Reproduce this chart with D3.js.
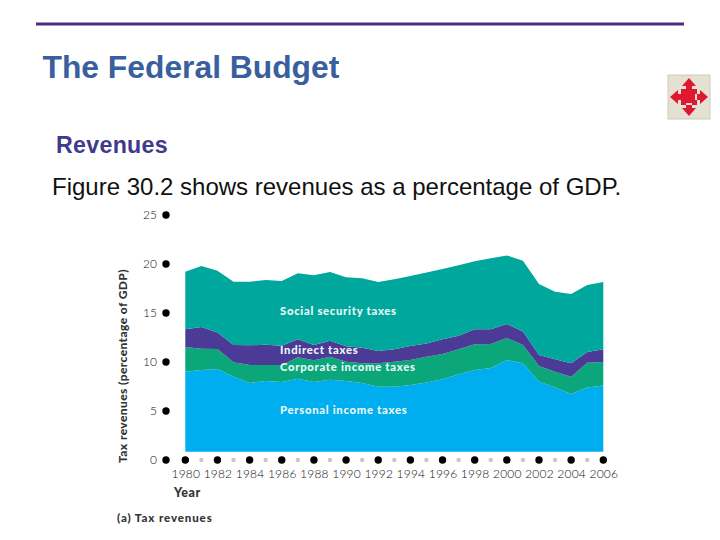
<!DOCTYPE html>
<html><head><meta charset="utf-8">
<script src="https://cdn.jsdelivr.net/npm/d3@7"></script>
<style>html,body{margin:0;background:#fff}svg{display:block}
.h{font-family:"Liberation Sans",Arial,sans-serif}
.c{font-family:Lato,"Open Sans",sans-serif}</style></head>
<body><svg id="c" width="720" height="540"></svg>
<script>
const years = d3.range(1980, 2007);
// Upper edge of each band as read against the left axis (percentage of GDP)
const personalTop = [9.01,9.18,9.29,8.5,7.86,8.06,7.96,8.3,7.96,8.2,8.06,7.85,7.48,7.48,7.65,7.9,8.23,8.74,9.18,9.39,10.2,9.86,8.0,7.4,6.73,7.4,7.6];
const corporateTop = [11.53,11.36,11.33,9.97,9.69,9.69,9.69,10.48,10.17,10.54,10.03,9.86,9.86,10.03,10.2,10.54,10.82,11.29,11.8,11.84,12.45,11.73,9.59,9.01,8.5,9.93,10.0];
const indirectTop = [13.33,13.57,13.0,11.73,11.7,11.77,11.67,12.31,11.73,12.18,11.6,11.45,11.12,11.29,11.63,11.9,12.31,12.69,13.33,13.33,13.88,13.1,10.71,10.27,9.86,11.02,11.29];
const socialTop = [19.22,19.8,19.3,18.2,18.2,18.37,18.27,19.05,18.84,19.18,18.64,18.54,18.16,18.44,18.78,19.12,19.49,19.86,20.27,20.58,20.88,20.34,17.96,17.18,16.94,17.86,18.16];
const areaFloor = 0.85;
const yTicks = [0,5,10,15,20,25];
const seriesNames = ["Personal income taxes","Corporate income taxes","Indirect taxes","Social security taxes"];
const seriesColors = ["#00ADEF","#0BA77B","#4B3A96","#00A79D"];

const svg = d3.select("#c");
const x = d3.scaleLinear().domain([1980,2006]).range([185.3,603.3]);
const y = d3.scaleLinear().domain([0,25]).range([460,215]);

function T(cls,px,py,s,fs,fw,fill){return svg.append("text").attr("class",cls).attr("x",px).attr("y",py).attr("font-size",fs).attr("font-weight",fw).attr("fill",fill).text(s);}

svg.append("line").attr("x1",36).attr("x2",684).attr("y1",24).attr("y2",24).attr("stroke","#4B2C85").attr("stroke-width",3);
T("h",42.5,78,"The Federal Budget",31.8,700,"#3A5F9E");
T("h",56,152.5,"Revenues",23.2,700,"#3F3A8C").attr("letter-spacing",0.3);
T("h",52,195,"Figure 30.2 shows revenues as a percentage of GDP.",24,400,"#111");

// icon
const ic = svg.append("g").attr("transform","translate(689,97)");
ic.append("rect").attr("x",-21).attr("y",-22).attr("width",42).attr("height",44).attr("fill","#E4E0D2").attr("stroke","#CFCBBB");
ic.append("path").attr("fill","#DD1830").attr("d","M-8,-8H8V8H-8Z M0,-19L7,-11H3V-6H-3V-11H-7Z M0,19L7,11H3V6H-3V11H-7Z M-19,0L-11,-7V-3H-6V3H-11V7Z M19,0L11,-7V-3H6V3H11V7Z");

// bands
const tops = [personalTop,corporateTop,indirectTop,socialTop];
tops.forEach((top,i)=>{
  const area = d3.area().x((d,j)=>x(years[j])).y0((d,j)=>y(i?tops[i-1][j]:areaFloor)).y1(d=>y(d));
  svg.append("path").datum(top).attr("d",area).attr("fill",seriesColors[i]);
});

// axes
const yAxis = d3.axisLeft(y).tickValues(yTicks).tickSize(0).tickPadding(0);
const gy = svg.append("g").attr("transform","translate(157,0)").call(yAxis);
gy.select(".domain").remove();
gy.selectAll("text").attr("font-size",12).attr("font-weight",300).attr("fill","#111").attr("font-family","Lato");
svg.selectAll(".yd").data(yTicks).join("circle").attr("cx",166).attr("cy",d=>y(d)).attr("r",3.7).attr("fill","#000");

const xAxis = d3.axisBottom(x).tickValues(years.filter(v=>v%2===0)).tickFormat(d3.format("d")).tickSize(0).tickPadding(0);
const gx = svg.append("g").attr("transform","translate(0,469)").call(xAxis);
gx.select(".domain").remove();
gx.selectAll("text").attr("font-size",12).attr("font-weight",300).attr("letter-spacing",0.2).attr("fill","#111").attr("font-family","Lato");
svg.selectAll(".xd").data(years).join("circle").attr("cx",d=>x(d)).attr("cy",460)
  .attr("r",d=>d%2===0?3.7:2.2).attr("fill",d=>d%2===0?"#000":"#C8C8C8");

// labels
const labelPos = [[280,413.5],[280,371],[280,354],[280,315]];
seriesNames.forEach((n,i)=>{
  T("c",labelPos[i][0],labelPos[i][1],n,11.3,900,"#E8F7F5").attr("letter-spacing",0.7);
});
T("c",174,496.5,"Year",12.5,900,"#333").attr("letter-spacing",0.5);
T("c",117,521.5,"(a) Tax revenues",11.5,900,"#333").attr("letter-spacing",0.9);
svg.append("text").attr("class","c").attr("transform","translate(127,366) rotate(-90)").attr("text-anchor","middle")
  .attr("font-size",12).attr("font-weight",900).attr("fill","#333").attr("letter-spacing",0.4).text("Tax revenues (percentage of GDP)");
</script></body></html>
